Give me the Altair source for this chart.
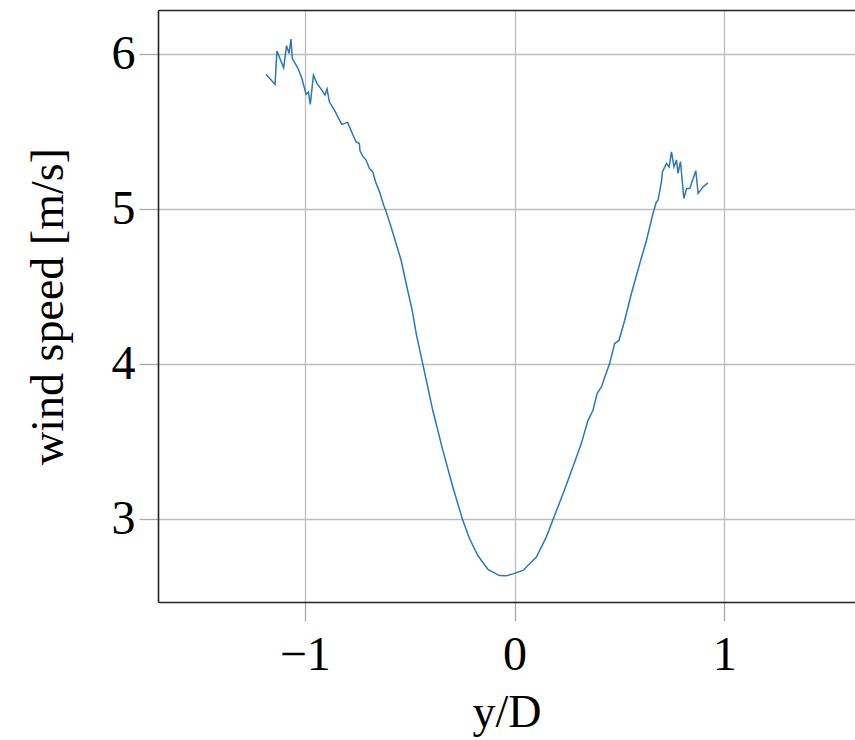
import altair as alt
import pandas as pd

# lateral position y/D
pos = [-1.185, -1.142, -1.133, -1.101, -1.087, -1.075, -1.066, -1.060, -1.034, -1.015,
       -0.994, -0.983, -0.974, -0.959, -0.942, -0.918, -0.904, -0.894, -0.883, -0.859,
       -0.824, -0.796, -0.772, -0.756, -0.740, -0.737, -0.724, -0.708, -0.692, -0.676,
       -0.663, -0.644, -0.624, -0.612, -0.589, -0.565, -0.541, -0.517, -0.488, -0.469,
       -0.438, -0.390, -0.342, -0.294, -0.247, -0.215, -0.175, -0.127, -0.072, -0.040,
       -0.008, 0.040, 0.104, 0.151, 0.183, 0.231, 0.278, 0.318, 0.350, 0.374,
       0.393, 0.414, 0.430, 0.453, 0.477, 0.498, 0.525, 0.557, 0.597, 0.629,
       0.660, 0.676, 0.684, 0.700, 0.705, 0.724, 0.737, 0.748, 0.760, 0.772,
       0.779, 0.791, 0.807, 0.820, 0.835, 0.864, 0.875, 0.899, 0.922]
# wind speed [m/s]
speed = [5.871, 5.806, 6.021, 5.913, 6.056, 6.006, 6.099, 5.974, 5.913, 5.849,
         5.742, 5.757, 5.677, 5.866, 5.813, 5.768, 5.737, 5.776, 5.694, 5.640,
         5.548, 5.561, 5.485, 5.436, 5.425, 5.378, 5.343, 5.318, 5.264, 5.242,
         5.178, 5.113, 5.027, 4.984, 4.887, 4.780, 4.672, 4.522, 4.349, 4.199,
         4.005, 3.704, 3.445, 3.208, 2.994, 2.877, 2.767, 2.677, 2.638, 2.636,
         2.649, 2.671, 2.757, 2.886, 2.998, 3.166, 3.338, 3.489, 3.639, 3.704,
         3.811, 3.854, 3.919, 4.005, 4.134, 4.156, 4.285, 4.457, 4.651, 4.801,
         4.974, 5.048, 5.059, 5.178, 5.242, 5.296, 5.274, 5.371, 5.274, 5.318,
         5.232, 5.307, 5.070, 5.135, 5.135, 5.249, 5.103, 5.145, 5.171]

x_ticks = [-1, 0, 1]
y_ticks = [3, 4, 5, 6]

df = pd.DataFrame({"pos": pos, "speed": speed})

FONT = "Liberation Serif"
xscale = alt.Scale(domain=[-1.7, 1.623], nice=False, zero=False)
yscale = alt.Scale(domain=[2.4674, 6.286], nice=False, zero=False)

line = alt.Chart(df).mark_line(color="#2a78b6", strokeWidth=1.5, clip=True).encode(
    x=alt.X("pos:Q", scale=xscale,
            axis=alt.Axis(values=x_ticks, title="y/D", grid=True, gridColor="#bdbdbd",
                          gridWidth=1.3, tickSize=19, tickColor="#a8a8a8", tickWidth=1.3,
                          domain=True, domainColor="#222222", domainWidth=1.6,
                          labelFont=FONT, labelFontSize=48, labelColor="black",
                          labelPadding=10, titleFont=FONT, titleFontSize=46,
                          titleFontWeight="normal", titleColor="black", titleY=88)),
    y=alt.Y("speed:Q", scale=yscale,
            axis=alt.Axis(values=y_ticks, title="wind speed [m/s]", grid=True,
                          gridColor="#bdbdbd", gridWidth=1.3, tickSize=19,
                          tickColor="#a8a8a8", tickWidth=1.3, domain=True,
                          domainColor="#222222", domainWidth=1.6, labelFont=FONT,
                          labelFontSize=48, labelColor="black", labelPadding=4,
                          titleFont=FONT, titleFontSize=46, titleFontWeight="normal",
                          titleColor="black", titleX=-86)),
)

top = alt.Chart(df).mark_line(opacity=0).encode(
    x=alt.X("pos:Q", scale=xscale,
            axis=alt.Axis(orient="top", labels=False, ticks=False, grid=False,
                          title=None, domain=True, domainColor="#222222",
                          domainWidth=1.6)),
    y=alt.Y("speed:Q", scale=yscale, axis=None),
)

chart = alt.layer(line, top).resolve_axis(x="independent", y="independent").properties(
    width=697, height=592,
    padding={"left": 158, "top": 10, "right": 0, "bottom": 138},
    autosize="none",
).configure_view(stroke=None)

chart.save("out.html", embed_options={"renderer": "svg", "actions": False})
